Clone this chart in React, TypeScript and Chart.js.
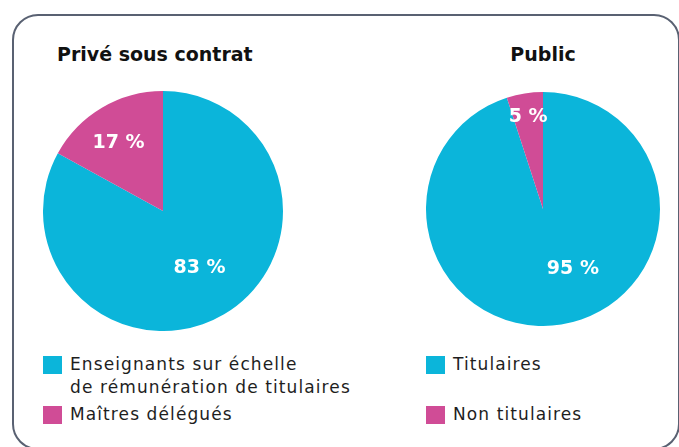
import React, { useEffect, useRef } from "react";
import { Chart, registerables } from "chart.js";

Chart.register(...registerables);

const privateTitle = "Privé sous contrat";
const publicTitle = "Public";
const privateLabels = ["Enseignants sur échelle\nde rémunération de titulaires", "Maîtres délégués"];
const privateValues = [83, 17];
const publicLabels = ["Titulaires", "Non titulaires"];
const publicValues = [95, 5];
const sliceColors = ["#0bb5da", "#d04c96"];

const FONT = "'DejaVu Sans', sans-serif";

const labelPlugin = {
  id: "sliceLabels",
  afterDatasetsDraw(chart: any, _args: any, opts: any) {
    const ctx = chart.ctx;
    const meta = chart.getDatasetMeta(0);
    const data = chart.data.datasets[0].data;
    ctx.save();
    ctx.fillStyle = "#ffffff";
    ctx.font = `bold 19px ${FONT}`;
    ctx.textAlign = "center";
    ctx.textBaseline = "middle";
    meta.data.forEach((arc: any, i: number) => {
      const p = arc.getProps(["x", "y", "startAngle", "endAngle", "outerRadius"], true);
      const pos = (opts.pos || [])[i] || { t: 0.5, r: 0.6 };
      const a = p.startAngle + pos.t * (p.endAngle - p.startAngle);
      const rr = pos.r * p.outerRadius;
      ctx.fillText(`${data[i]} %`, p.x + Math.cos(a) * rr, p.y + Math.sin(a) * rr + 2);
    });
    ctx.restore();
  },
};

function Pie({ values, left, top, size, pos }: any) {
  const ref = useRef<HTMLCanvasElement>(null);
  useEffect(() => {
    const chart = new Chart(ref.current!, {
      type: "pie",
      data: {
        labels: values.map((v: number) => String(v)),
        datasets: [{ data: values, backgroundColor: sliceColors, borderWidth: 0 }],
      },
      options: {
        animation: false,
        responsive: false,
        maintainAspectRatio: false,
        layout: { padding: 0 },
        plugins: {
          legend: { display: false },
          tooltip: { enabled: false },
          sliceLabels: { pos },
        } as any,
      },
      plugins: [labelPlugin],
    });
    return () => chart.destroy();
  }, []);
  return (
    <canvas
      ref={ref}
      width={size}
      height={size}
      style={{ position: "absolute", left, top, width: size, height: size }}
    />
  );
}

function LegendItem({ color, text, left, top }: any) {
  const lines = text.split("\n");
  return (
    <div style={{ position: "absolute", left, top }}>
      <div style={{ position: "absolute", left: 0, top: 0, width: 19, height: 18, background: color }} />
      {lines.map((l: string, i: number) => (
        <div
          key={i}
          style={{
            position: "absolute",
            left: 27,
            top: -5 + i * 23,
            whiteSpace: "nowrap",
            font: `17px ${FONT}`,
            letterSpacing: "1.1px",
            color: "#1e1e1e",
            lineHeight: "26px",
          }}
        >
          {l}
        </div>
      ))}
    </div>
  );
}

export default function App() {
  return (
    <div style={{ position: "fixed", left: 0, top: 0, width: 679, height: 447, background: "#fff", overflow: "hidden" }}>
      <div
        style={{
          position: "absolute",
          left: 12,
          top: 14,
          width: 668,
          height: 436,
          boxSizing: "border-box",
          border: "2px solid #596172",
          borderRadius: 26,
        }}
      />
      <div style={{ position: "absolute", left: 57, top: 43, font: `bold 19px ${FONT}`, color: "#111", whiteSpace: "nowrap" }}>
        {privateTitle}
      </div>
      <div style={{ position: "absolute", left: 443, width: 200, textAlign: "center", top: 43, font: `bold 19px ${FONT}`, color: "#111" }}>
        {publicTitle}
      </div>
      <Pie values={privateValues} left={43} top={91} size={240} pos={[{ t: 0.49, r: 0.55 }, { t: 0.47, r: 0.69 }]} />
      <Pie values={publicValues} left={426} top={92} size={234} pos={[{ t: 0.447, r: 0.56 }, { t: 0.5, r: 0.81 }]} />
      <LegendItem color={sliceColors[0]} text={privateLabels[0]} left={43} top={356} />
      <LegendItem color={sliceColors[1]} text={privateLabels[1]} left={43} top={406} />
      <LegendItem color={sliceColors[0]} text={publicLabels[0]} left={426} top={356} />
      <LegendItem color={sliceColors[1]} text={publicLabels[1]} left={426} top={406} />
    </div>
  );
}
